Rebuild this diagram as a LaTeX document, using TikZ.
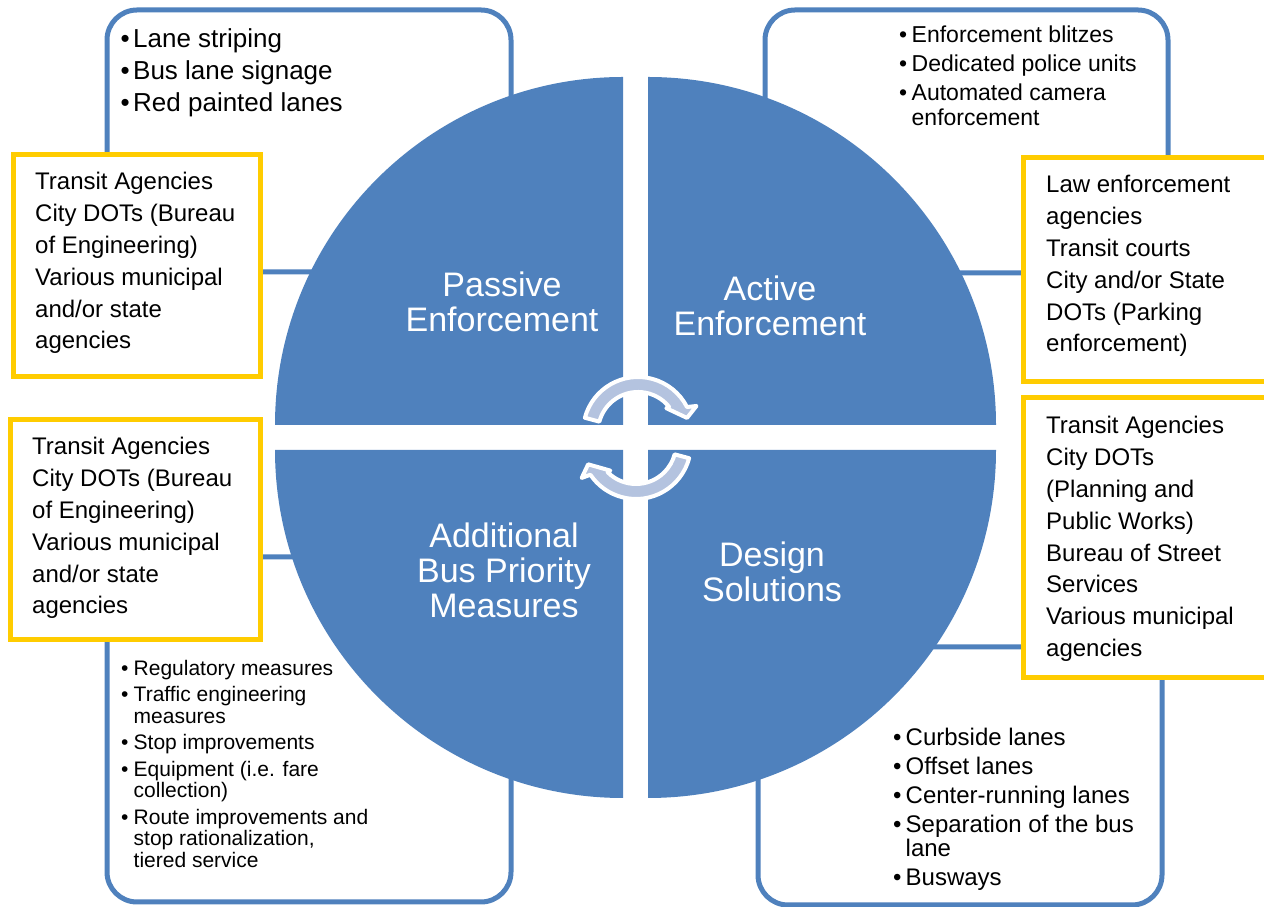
\documentclass[tikz,border=0pt]{standalone}
\usepackage{fontspec}
\setmainfont{Liberation Sans}
\definecolor{segblue}{HTML}{4F81BD}
\definecolor{agyellow}{HTML}{FFCC00}
\definecolor{cyclight}{HTML}{B4C3DF}
\newlength{\itmw}
\setlength{\itmw}{12.5pt}
\newcommand{\itm}{\makebox[\itmw][l]{\textbullet}}
\newcommand{\cnt}{\hspace*{\itmw}}

\begin{document}
\begin{tikzpicture}[x=1pt,y=1pt,
lanebox/.style={draw=segblue,line width=5pt,rounded corners=30pt,fill=white},
agbox/.style={draw=agyellow,line width=5pt,fill=white},
quad/.style={fill=segblue},
cyc/.style={fill=cyclight,draw=white,line width=4pt,line join=round},
seglabel/.style={text=white,align=center,anchor=base,inner sep=0pt,font=\fontsize{34}{35}\selectfont},
itemlist/.style={align=left,anchor=base west,inner sep=0pt},
aglist/.style={itemlist,font=\fontsize{24}{31.8}\selectfont}]
\useasboundingbox (0,0) rectangle (1264,907);
\draw[lanebox] (107,897) rectangle (511,635);
\draw[lanebox] (765,897) rectangle (1168,634);
\draw[lanebox] (107,350) rectangle (511,5);
\draw[lanebox] (758,260) rectangle (1162,2);
\fill[quad] (623,482) -- (275,482) arc[start angle=180,end angle=90,radius=348pt] -- cycle;
\fill[quad] (648,482) -- (648,830) arc[start angle=90,end angle=0,radius=348pt] -- cycle;
\fill[quad] (623,457) -- (275,457) arc[start angle=180,end angle=270,radius=348pt] -- cycle;
\fill[quad] (648,457) -- (648,109) arc[start angle=270,end angle=360,radius=348pt] -- cycle;
\begin{scope}[shift={(638,475)}]
\filldraw[cyc] (165:55pt) arc[start angle=165,end angle=27,radius=55pt] -- (24:64pt) -- (16:51pt) -- (40:37pt) -- (39:40pt) arc[start angle=39,end angle=165,radius=40pt] -- cycle;
\end{scope}
\begin{scope}[shift={(636,463)}]
\filldraw[cyc] (-15:55pt) arc[start angle=-15,end angle=-146,radius=55pt] -- (212:64pt) -- (203:52pt) -- (226:37pt) -- (225:40pt) arc[start angle=225,end angle=345,radius=40pt] -- cycle;
\end{scope}
\draw[agbox] (13,752) rectangle (260,530);
\draw[agbox] (1023,749) rectangle (1280,525);
\draw[agbox] (10,487) rectangle (260,267);
\draw[agbox] (1023,509) rectangle (1280,229);
\node[seglabel] (passive) at (502,575) {Passive\\Enforcement};
\node[seglabel] (active) at (770,571) {Active\\Enforcement};
\node[seglabel] (additional) at (504,289) {Additional\\Bus Priority\\Measures};
\node[seglabel] (design) at (772,305) {Design\\Solutions};
\node[itemlist,font=\fontsize{26}{32}\selectfont] (passiveList) at (120.5,795) {\itm Lane striping\\\itm Bus lane signage\\\itm Red painted lanes};
\node[itemlist,font=\fontsize{23}{25}\selectfont] (activeList) at (899,781) {\itm Enforcement blitzes\\[4pt]\itm Dedicated police units\\[4pt]\itm Automated camera\\\cnt enforcement};
\node[itemlist,font=\fontsize{21}{21.5}\selectfont] (priorityList) at (121,39.5) {\itm Regulatory measures\\[5pt]\itm Traffic engineering\\\cnt measures\\[5pt]\itm Stop improvements\\[5pt]\itm Equipment (i.e. fare\\\cnt collection)\\[5pt]\itm Route improvements and\\\cnt stop rationalization,\\\cnt tiered service};
\node[itemlist,font=\fontsize{24}{24}\selectfont] (designList) at (893,21) {\itm Curbside lanes\\[5pt]\itm Offset lanes\\[5pt]\itm Center-running lanes\\[5pt]\itm Separation of the bus\\\cnt lane\\[5pt]\itm Busways};
\node[aglist] (passiveAg) at (35,558) {Transit Agencies\\City DOTs (Bureau\\of Engineering)\\Various municipal\\and/or state\\agencies};
\node[aglist] (activeAg) at (1046,555) {Law enforcement\\agencies\\Transit courts\\City and/or State\\DOTs (Parking\\enforcement)};
\node[aglist] (priorityAg) at (32,293) {Transit Agencies\\City DOTs (Bureau\\of Engineering)\\Various municipal\\and/or state\\agencies};
\node[aglist] (designAg) at (1046,250.4) {Transit Agencies\\City DOTs\\(Planning and\\Public Works)\\Bureau of Street\\Services\\Various municipal\\agencies};
\end{tikzpicture}
\end{document}
